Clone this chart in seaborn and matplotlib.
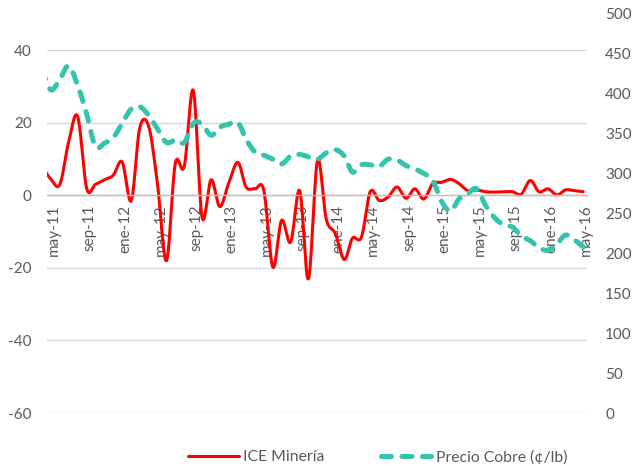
import numpy as np
import pandas as pd
import matplotlib
matplotlib.use("Agg")
import matplotlib.pyplot as plt
import matplotlib.dates as mdates
import seaborn as sns

# Monthly data, Apr-11 .. May-16 (points dated mid-month)
months = pd.date_range("2011-04-01", "2016-05-01", freq="MS") + pd.Timedelta(days=14)

ice_mineria = [
    8.0, 4.5, 3.0, 14.6, 21.8, 2.0, 3.0, 4.3, 5.5,
    9.2, -1.5, 18.5, 19.0, 3.2, -18.0, 8.7, 8.0, 28.9, -6.0, 4.3, -3.1,
    3.5, 9.1, 2.3, 1.8, 1.3, -19.8, -6.9, -12.9, 1.3, -23.0, 9.6, -6.5,
    -10.5, -17.7, -11.8, -11.5, 1.0, -1.4, -0.5, 2.3, -0.8, 1.8, -1.0, 3.2,
    3.6, 4.4, 3.3, 1.3, 1.5, 1.0, 0.9, 1.0, 1.0, 0.3, 4.1, 1.0,
    1.8, 0.1, 1.5, 1.3, 1.0,
]
precio_cobre = [
    430, 405, 418, 435, 411, 375, 334, 338, 345,
    363, 381, 384, 373, 356, 339, 342, 339, 363, 362, 348, 358,
    362, 364, 343, 327, 323, 318, 312, 322, 324, 321, 318, 326,
    330, 322, 302, 311, 311, 309, 318, 317, 310, 306, 300, 292,
    265, 253, 268, 275, 281, 260, 245, 236, 233, 222, 216, 207,
    204, 212, 223, 217, 208,
]

tick_dates = pd.date_range("2011-05-01", "2016-05-01", freq="4MS")
tick_labels = ["may-11", "sep-11", "ene-12", "may-12", "sep-12", "ene-13",
               "may-13", "sep-13", "ene-14", "may-14", "sep-14", "ene-15",
               "may-15", "sep-15", "ene-16", "may-16"]

RED = "#FF0000"
TEAL = "#33C4AE"
GREY = "#595959"


def smooth(x, y, n=16):
    # Catmull-Rom curve through the points, like Excel's smoothed line
    x = np.asarray(x, float)
    y = np.asarray(y, float)
    px = np.concatenate([[2 * x[0] - x[1]], x, [2 * x[-1] - x[-2]]])
    py = np.concatenate([[2 * y[0] - y[1]], y, [2 * y[-1] - y[-2]]])
    t = np.linspace(0, 1, n, endpoint=False)
    xs, ys = [], []
    for i in range(1, len(px) - 2):
        for p, out in ((px, xs), (py, ys)):
            p0, p1, p2, p3 = p[i - 1], p[i], p[i + 1], p[i + 2]
            out.append(0.5 * (2 * p1 + (p2 - p0) * t
                              + (2 * p0 - 5 * p1 + 4 * p2 - p3) * t ** 2
                              + (3 * p1 - p0 - 3 * p2 + p3) * t ** 3))
    xs.append([x[-1]])
    ys.append([y[-1]])
    return np.concatenate(xs), np.concatenate(ys)


sns.set_style("white")
plt.rcParams["font.family"] = ["Lato", "DejaVu Sans"]
plt.rcParams["axes.unicode_minus"] = False

fig = plt.figure(figsize=(6.32, 4.66), dpi=100)
ax = fig.add_axes([0.0739, 0.1137, 0.855, 0.8563])
ax2 = ax.twinx()

xnum = mdates.date2num(months)
rx, ry = smooth(xnum, ice_mineria)
cx, cy = smooth(xnum, precio_cobre)

sns.lineplot(x=rx, y=ry, ax=ax, color=RED, linewidth=2.2,
             label="ICE Minería", legend=False)
sns.lineplot(x=cx, y=cy, ax=ax2, color=TEAL, linewidth=3.6,
             linestyle=(0, (2.0, 2.1)), dash_capstyle="round",
             label="Precio Cobre (¢/lb)", legend=False)

ax.set_xlim(mdates.date2num(pd.Timestamp("2011-05-01")),
            mdates.date2num(pd.Timestamp("2016-05-28")))
ax.set_ylim(-60, 50)
ax2.set_ylim(0, 500)
ax.set_yticks(range(-60, 41, 20))
ax2.set_yticks(range(0, 501, 50))

ax.set_xticks(mdates.date2num(tick_dates))
ax.set_xticklabels(tick_labels)

for a in (ax, ax2):
    for s in a.spines.values():
        s.set_visible(False)
    a.set_xlabel("")
    a.set_ylabel("")

ax.spines["bottom"].set_visible(True)
ax.spines["bottom"].set_position(("data", 0))
ax.spines["bottom"].set_color("#BFBFBF")
ax.spines["bottom"].set_linewidth(1.0)

ax.yaxis.grid(True, color="#D9D9D9", linewidth=1.0)
ax.xaxis.grid(False)
ax.set_axisbelow(True)

ax.tick_params(axis="x", direction="out", length=3.6, width=0.8,
               color="#BFBFBF", pad=3, labelsize=11, labelcolor=GREY,
               labelrotation=90)
ax.tick_params(axis="y", length=0, pad=10.8, labelsize=11, labelcolor=GREY)
ax2.tick_params(axis="y", length=0, pad=13, labelsize=11, labelcolor=GREY)
for lab in ax.get_xticklabels():
    lab.set_horizontalalignment("left")
    lab.set_verticalalignment("top")

h1, l1 = ax.get_legend_handles_labels()
h2, l2 = ax2.get_legend_handles_labels()
fig.legend(h1 + h2, l1 + l2, loc="center", bbox_to_anchor=(0.598, 0.019),
           ncol=2, frameon=False, fontsize=11.3, labelcolor=GREY,
           handlelength=3.2, handletextpad=0.3, columnspacing=3.6)

fig.savefig("out.png", dpi=100)
